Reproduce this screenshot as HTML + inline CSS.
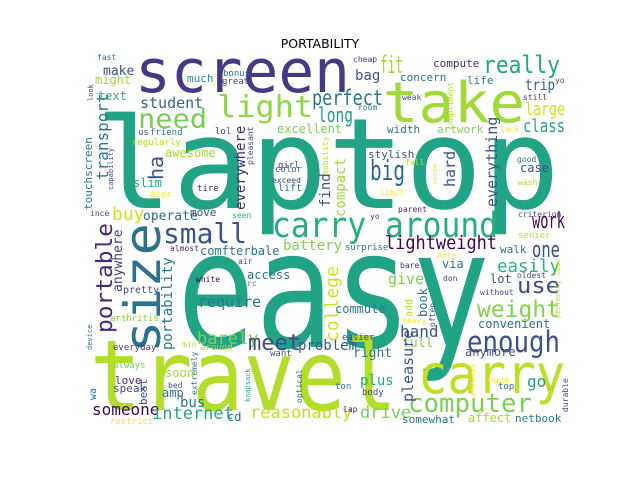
<!DOCTYPE html>
<html><head><meta charset="utf-8"><style>
html,body{margin:0;padding:0;background:#fff;}
svg{display:block;}
text{font-family:"DejaVu Sans Mono","Liberation Mono",monospace;}
</style></head><body>
<svg id="cloud" width="640" height="480" viewBox="0 0 640 480" xmlns="http://www.w3.org/2000/svg">
<rect x="0" y="0" width="640" height="480" fill="#ffffff"/>
<text x="320" y="48" text-anchor="middle" font-size="12.5" style="font-family:'DejaVu Sans','Liberation Sans',sans-serif" fill="#000">PORTABILITY</text>
<g id="words"></g>
</svg>
<script>
// [word, x, baseline y, font size, color, rotated(1=vertical), textLength]
const words = [
["laptop",95,208,126,"#21a386",0,465],
["easy",177,347,163,"#21a386",0,313],
["travel",90,410,98,"#b2dd2c",0,307],
["screen",135,92,60,"#443983",0,215],
["take",383,122,56,"#a0da39",0,142],
["carry around",272,237,35,"#27ad81",0,226],
["carry",418,393,54,"#bddf26",0,147],
["computer",408,412,26,"#7ad151",0,124],
["enough",467,352,29,"#3b528b",0,93],
["weight",477,317,23,"#84d44b",0,83],
["use",517,293,22,"#3e4989",0,43],
["one",532,257,22,"#3b528b",0,28],
["easily",497,272,18,"#2db27d",0,63],
["lightweight",385,249,19,"#440154",0,112],
["need",138,128,27,"#75d054",0,69],
["light",217,117,30,"#8fd744",0,96],
["size",160,353,50,"#2c728e",1,130],
["portable",112,333,22,"#482878",1,110],
["small",163,243,28,"#3b528b",0,84],
["fit",380,73,24,"#a5db36",0,23],
["really",483,73,24,"#22a884",0,77],
["perfect",312,105,21,"#2a788e",0,71],
["long",318,122,20,"#1f9e89",0,35],
["big",370,180,28,"#31688e",0,35],
["class",523,132,18,"#20a486",0,42],
["large",525,115,18,"#d0e11c",0,40],
["trip",525,90,15,"#35608d",0,30],
["work",532,228,22,"#440154",0,33],
["fast",97,60,8,"#31688e",0,0],
["make",103,75,13,"#3b528b",0,0],
["might",95,84,12,"#a0da39",0,0],
["much",187,82,11,"#21918c",0,0],
["bonus",223,76,9,"#2c728e",0,0],
["great",222,84,9,"#3e4989",0,0],
["look",93,101,7,"#3e4989",1,0],
["text",98,100,12,"#2db27d",0,0],
["student",140,108,15,"#35608d",0,0],
["transport",108,180,16,"#2a788e",1,0],
["touchscreen",92,210,11,"#2a788e",1,0],
["capability",113,190,7,"#3e4989",1,0],
["ha",163,180,20,"#3b528b",1,0],
["us",138,135,9,"#3e4989",0,0],
["friend",150,135,9,"#2c728e",0,0],
["regularly",132,145,9,"#b5de2b",0,0],
["awesome",165,157,12,"#a0da39",0,0],
["slim",133,187,12,"#22a884",0,0],
["acer",150,197,9,"#fde725",0,0],
["tire",197,191,9,"#482878",0,0],
["buy",112,220,18,"#d0e11c",0,0],
["operate",143,220,13,"#2c728e",0,0],
["move",190,216,11,"#3b528b",0,0],
["seen",232,218,8,"#2db27d",0,0],
["ince",90,216,8,"#3e4989",0,0],
["lol",215,134,9,"#433e85",0,0],
["everywhere",245,210,14,"#482878",1,0],
["pleasant",253,165,8,"#3e4989",1,0],
["excellent",277,133,12,"#7ad151",0,0],
["girl",278,168,9,"#453781",0,0],
["color",275,172,9,"#31688e",0,0],
["exceed",272,183,8,"#3e4989",0,0],
["lift",278,191,10,"#31688e",0,0],
["cheap",353,62,8,"#433e85",0,0],
["compute",433,67,11,"#482878",0,0],
["bag",355,80,14,"#3b528b",0,0],
["concern",400,81,11,"#2c728e",0,0],
["life",467,84,11,"#2a788e",0,0],
["compliment",453,130,8,"#b5de2b",1,0],
["yo",555,83,8,"#3e4989",0,0],
["still",523,100,8,"#453781",0,0],
["weak",402,100,8,"#3e4989",0,0],
["room",358,110,8,"#2c728e",0,0],
["width",387,133,11,"#2c728e",0,0],
["artwork",437,133,11,"#7ad151",0,0],
["everything",497,207,15,"#3b528b",1,0],
["lack",500,132,8,"#fde725",0,0],
["stylish",368,158,11,"#3b528b",0,0],
["compact",345,217,14,"#a0da39",1,0],
["find",330,207,14,"#3b528b",1,0],
["mobility",328,175,8,"#b5de2b",1,0],
["fall",405,165,8,"#b5de2b",0,0],
["hard",455,187,15,"#3b528b",1,0],
["suede",437,185,7,"#fde725",1,0],
["good",517,162,8,"#2a788e",0,0],
["case",520,172,12,"#3b528b",0,0],
["wash",518,185,8,"#b5de2b",0,0],
["limit",380,195,8,"#fde725",0,0],
["parent",398,212,8,"#482878",0,0],
["yo",370,219,8,"#3e4989",0,0],
["criterion",518,217,8,"#3e4989",0,0],
["senior",518,238,9,"#b5de2b",0,0],
["comfterbale",200,255,12,"#2c728e",0,0],
["battery",283,250,14,"#7ad151",0,0],
["almost",170,251,8,"#482878",0,0],
["anywhere",122,292,13,"#443983",1,0],
["air",238,264,8,"#3e4989",0,0],
["access",247,279,12,"#2c728e",0,0],
["white",196,282,8,"#440154",0,0],
["rc",247,286,8,"#2a788e",0,0],
["pretty",123,293,10,"#3e4989",0,0],
["portability",172,350,14,"#2a788e",1,0],
["require",198,307,15,"#2a788e",0,0],
["arthritis",110,321,9,"#7ad151",0,0],
["barely",197,344,17,"#7ad151",0,0],
["meet",248,350,22,"#3e4989",0,0],
["problem",298,350,14,"#3b528b",0,0],
["device",92,350,7,"#2c728e",1,0],
["everyday",113,350,9,"#443983",0,0],
["min",182,347,8,"#b5de2b",0,0],
["around",200,350,9,"#b5de2b",0,0],
["want",270,356,9,"#3e4989",0,0],
["extremely",197,395,8,"#2c728e",1,0],
["always",113,368,9,"#7ad151",0,0],
["soon",165,377,12,"#a0da39",0,0],
["love",115,384,11,"#482878",0,0],
["bed",168,388,8,"#3e4989",0,0],
["knapsack",250,402,7,"#2db27d",1,0],
["optical",302,403,8,"#2c728e",1,0],
["speak",113,392,11,"#3e4989",0,0],
["best",147,405,11,"#3b528b",1,0],
["amp",162,397,12,"#2c728e",0,0],
["bus",180,407,14,"#2a788e",0,0],
["wa",96,400,10,"#2c728e",1,0],
["someone",92,415,16,"#440154",0,0],
["internet",152,419,17,"#22a884",0,0],
["cd",227,421,12,"#2c728e",0,0],
["reasonably",250,418,17,"#c2df23",0,0],
["restrict",110,424,9,"#fde725",0,0],
["surprise",345,250,9,"#2c728e",0,0],
["walk",500,253,11,"#2c728e",0,0],
["able",437,258,8,"#fde725",0,0],
["bare",400,268,8,"#482878",0,0],
["via",442,268,12,"#2c728e",0,0],
["don",443,281,8,"#3e4989",0,0],
["give",388,284,15,"#7ad151",0,0],
["lot",490,283,12,"#3b528b",0,0],
["oldest",517,278,8,"#3e4989",0,0],
["perfectly load",560,318,7,"#b5de2b",1,0],
["college",338,342,18,"#d0e11c",1,0],
["commute",335,313,12,"#2a788e",0,0],
["book",427,317,12,"#2c728e",1,0],
["add",412,317,10,"#b5de2b",1,0],
["without",480,295,8,"#3e4989",0,0],
["often",435,327,8,"#3e4989",1,0],
["convenient",478,328,12,"#2c728e",0,0],
["heavy",402,323,8,"#fde725",0,0],
["hand",400,337,16,"#3b528b",0,0],
["easier",342,340,9,"#3e4989",0,0],
["full",402,347,13,"#7ad151",0,0],
["right",353,357,13,"#2a788e",0,0],
["pleasure",413,402,15,"#3b528b",1,0],
["anymore",465,356,12,"#3b528b",0,0],
["anyways",475,397,8,"#fde725",1,0],
["huge",488,383,9,"#fde725",0,0],
["top",498,389,9,"#2c728e",0,0],
["plus",360,385,14,"#22a884",0,0],
["go",527,387,16,"#1f9e89",0,0],
["ton",335,389,9,"#2a788e",0,0],
["body",362,395,9,"#3e4989",0,0],
["lap",343,412,8,"#482878",0,0],
["drive",360,418,17,"#7ad151",0,0],
["somewhat",402,423,11,"#2c728e",0,0],
["affect",468,422,12,"#a0da39",0,0],
["netbook",515,422,11,"#2a788e",0,0],
["durable",568,412,8,"#3e4989",1,0]
];
const NS = "http://www.w3.org/2000/svg";
const g = document.getElementById("words");
words.forEach(function(w){
  const el = document.createElementNS(NS, "text");
  
  
  el.setAttribute("x", w[1]);
  el.setAttribute("y", w[2]);
  el.setAttribute("font-size", w[3]);
  el.setAttribute("fill", w[4]);
  if (w[5]) el.setAttribute("transform", "rotate(-90 " + w[1] + " " + w[2] + ")");
  if (w[6]) { el.setAttribute("textLength", w[6]); el.setAttribute("lengthAdjust", "spacingAndGlyphs"); }
  el.textContent = w[0];
  g.appendChild(el);
});
</script>
</body></html>
